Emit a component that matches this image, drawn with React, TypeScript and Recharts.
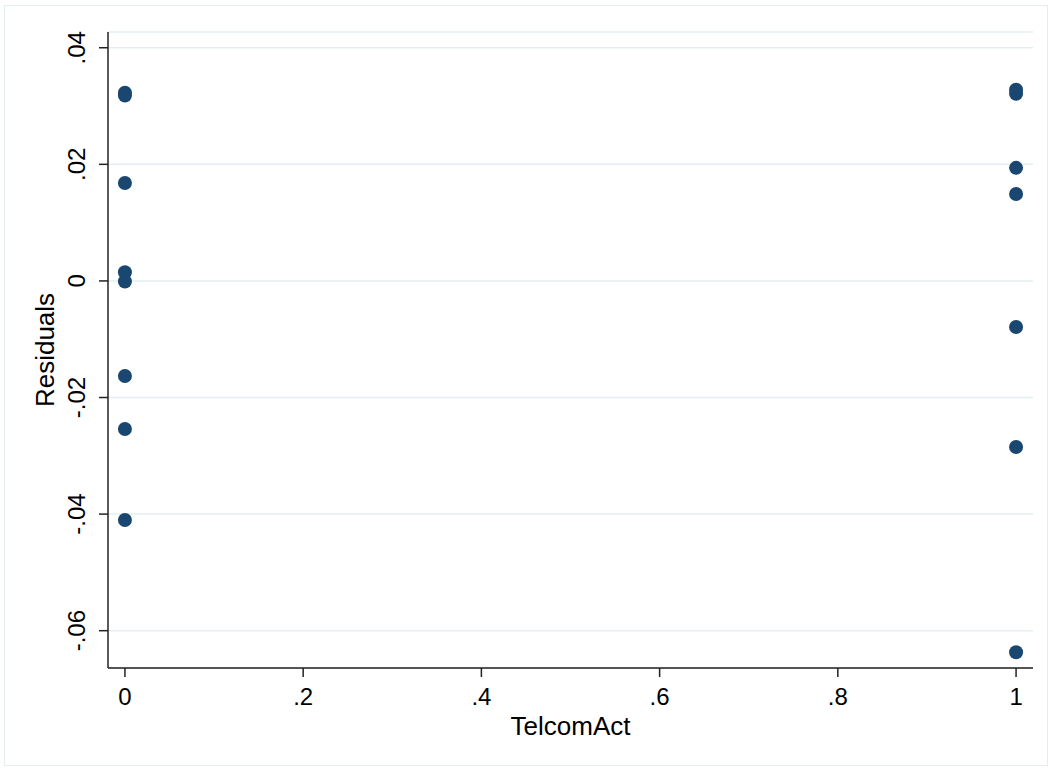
import { ScatterChart, Scatter, XAxis, YAxis, CartesianGrid } from 'recharts'

// residuals, grouped by TelcomAct
const telcomActLevels = [0, 1]
const residualsAt0 = [0.0323, 0.0318, 0.0168, 0.0015, -0.0001, -0.0163, -0.0254, -0.041]
const residualsAt1 = [0.0328, 0.0321, 0.0194, 0.0149, -0.0079, -0.0285, -0.0637]

const xTicks = [0, 0.2, 0.4, 0.6, 0.8, 1]
const yTicks = [-0.06, -0.04, -0.02, 0, 0.02, 0.04]

const FONT = '"Liberation Sans", Arial, Helvetica, sans-serif'
const NAVY = '#1a476f'

const points = [
  ...residualsAt0.map((r) => ({ telcomAct: telcomActLevels[0], residual: r })),
  ...residualsAt1.map((r) => ({ telcomAct: telcomActLevels[1], residual: r })),
]

// Stata style: drop leading zero, ".04", "-.02"
function stataNum(v: number) {
  if (v === 0) return '0'
  if (Number.isInteger(v)) return String(v)
  const s = String(Math.round(v * 100) / 100)
  return s.replace(/^(-?)0\./, '$1.')
}

interface TickProps {
  x?: number
  y?: number
  payload?: { value: number }
}

function YTick({ x = 0, y = 0, payload }: TickProps) {
  return (
    <text
      transform={`translate(${x - 21},${y}) rotate(-90)`}
      textAnchor="middle"
      dy="0.36em"
      fontSize={24}
      fontFamily={FONT}
      fill="#000"
    >
      {stataNum(payload?.value ?? 0)}
    </text>
  )
}

interface DotProps {
  cx?: number
  cy?: number
}

function Dot({ cx = 0, cy = 0 }: DotProps) {
  return <circle cx={cx} cy={cy} r={7} fill={NAVY} />
}

export default function App() {
  return (
    <div style={{ position: 'absolute', left: 0, top: 0, width: 1052, height: 770, background: '#fff' }}>
      <div
        style={{
          position: 'absolute',
          left: 4,
          top: 5,
          width: 1042,
          height: 759,
          border: '1px solid #e4ecef',
        }}
      />
      <div style={{ position: 'absolute', left: 0, top: 0 }}>
        <ScatterChart width={1052} height={770} margin={{ top: 32, right: 19, bottom: 32, left: 0 }}>
          <CartesianGrid vertical={false} stroke="#e4eef1" strokeWidth={1.5} />
          <XAxis
            type="number"
            dataKey="telcomAct"
            domain={[-0.019, 1.019]}
            ticks={xTicks}
            interval={0}
            tickFormatter={stataNum}
            height={70}
            tickSize={9}
            tickMargin={11}
            stroke="#222"
            strokeWidth={1.5}
            tick={{ fontSize: 24, fontFamily: FONT, fill: '#000' }}
            label={{
              value: 'TelcomAct',
              position: 'insideBottom',
              offset: 3,
              style: { fontSize: 26, fontFamily: FONT, fill: '#000' },
            }}
          />
          <YAxis
            type="number"
            dataKey="residual"
            domain={[-0.0664, 0.0427]}
            ticks={yTicks}
            interval={0}
            width={108}
            tickSize={9}
            tickMargin={2}
            stroke="#222"
            strokeWidth={1.5}
            tick={<YTick />}
            label={{
              value: 'Residuals',
              angle: -90,
              position: 'insideLeft',
              offset: 45,
              style: { textAnchor: 'middle', fontSize: 26, fontFamily: FONT, fill: '#000' },
            }}
          />
          <Scatter data={points} shape={<Dot />} isAnimationActive={false} />
        </ScatterChart>
      </div>
    </div>
  )
}
